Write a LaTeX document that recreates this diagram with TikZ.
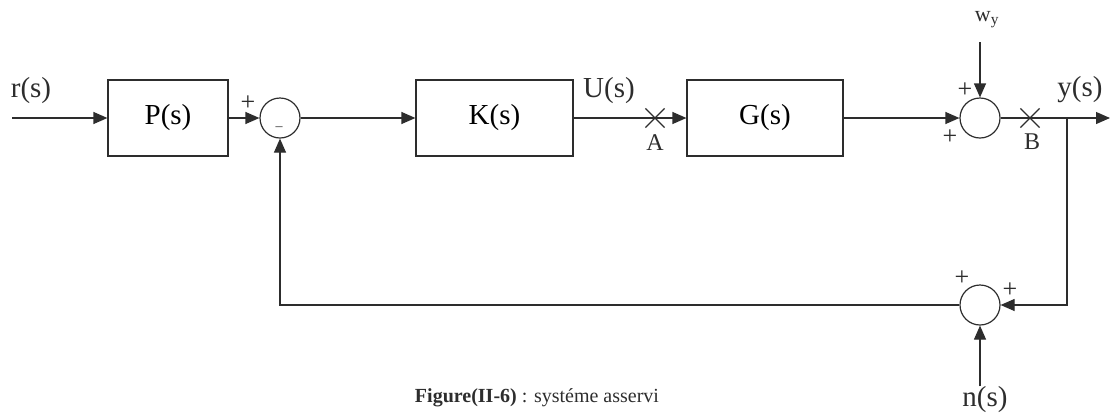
\documentclass[tikz,border=0pt]{standalone}
\usepackage{fontspec}
\setmainfont{Liberation Serif}
\usetikzlibrary{arrows.meta,shapes.misc}

\definecolor{inkgray}{RGB}{45,45,45}
\tikzset{every picture/.style={line width=1.2pt}}
\tikzset{
  blockbox/.style={draw=inkgray, minimum height=76, inner sep=0pt, font=\fontsize{29}{31}\selectfont},
  sumcirc/.style={draw=inkgray, circle, minimum size=40, inner sep=0pt},
  crossmark/.style={draw=inkgray, cross out, minimum size=18, inner sep=0pt},
  lbl/.style={font=\fontsize{29}{31}\selectfont, inner sep=0pt, text=inkgray},
  sgn/.style={font=\fontsize{26}{28}\selectfont, inner sep=0pt, text=inkgray},
  flow/.style={draw=inkgray, -{Triangle[length=14pt,width=12pt]}},
}

\begin{document}
\begin{tikzpicture}[x=1pt,y=1pt,yscale=-1,xscale=1]
	\useasboundingbox (0,0) rectangle (1111,416);

	%Shape: Rectangle [P]
	\node[blockbox, minimum width=120] (P) at (168,118) {P(s)};
	%Shape: Rectangle [K]
	\node[blockbox, minimum width=157] (K) at (494.5,118) {K(s)};
	%Shape: Rectangle [G]
	\node[blockbox, minimum width=156] (G) at (765,118) {G(s)};
	%Shape: Circle [comparator]
	\node[sumcirc] (S1) at (280,118) {};
	%Shape: Circle [output sum]
	\node[sumcirc] (S2) at (980,118) {};
	%Shape: Circle [noise sum]
	\node[sumcirc] (S3) at (980,305) {};

	% free ends
	\coordinate (in) at (12,118);
	\coordinate (out) at (1110,118);
	\coordinate (br) at (1067,118);
	\coordinate (wy) at (980,42);

	% Text Node
	\node[lbl] (rs) at (31,91) {r(s)};
	% Text Node
	\node[lbl] (us) at (609,91) {U(s)};
	% Text Node
	\node[lbl] (ys) at (1080,90) {y(s)};
	% Text Node
	\node[lbl, font=\fontsize{22}{24}\selectfont] (wylab) at (987,20) {w\textsubscript{y}};
	% Text Node
	\node[lbl] (ns) at (985,400) {n(s)};

	%Cross marks
	\node[crossmark] (A) at (655,118) {};
	\node[lbl, font=\fontsize{24}{26}\selectfont] (Alab) at (655,143) {A};
	\node[crossmark] (B) at (1030,118) {};
	\node[lbl, font=\fontsize{24}{26}\selectfont] (Blab) at (1032,142) {B};

	%Signs
	\node[sgn] (p1) at (248,103) {+};
	\node[sgn, font=\fontsize{14}{14}\selectfont] (m1) at (279,129) {\textendash};
	\node[sgn] (p2) at (965,90) {+};
	\node[sgn] (p3) at (950,137) {+};
	\node[sgn] (p4) at (962,278) {+};
	\node[sgn] (p5) at (1010,290) {+};

	%Straight Lines
	\draw[flow] (in) -- (P.west);
	\draw[flow] (P.east) -- (S1.west);
	\draw[flow] (S1.east) -- (K.west);
	\draw[flow] (K.east) -- (G.west);
	\draw[flow] (G.east) -- (S2.west);
	\draw[flow] (wy) -- (S2.north);
	\draw[flow] (S2.east) -- (out);
	\draw[flow] (br) |- (S3.east);
	\draw[flow] (S3.west) -| (S1.south);
	\draw[flow] (ns.north -| S3.south) -- (S3.south);

	% Caption
	\node[font=\fontsize{20}{22}\selectfont, text=inkgray] (cap) at (537,398) {\textbf{Figure(II-6)} : systéme asservi};

\end{tikzpicture}
\end{document}
